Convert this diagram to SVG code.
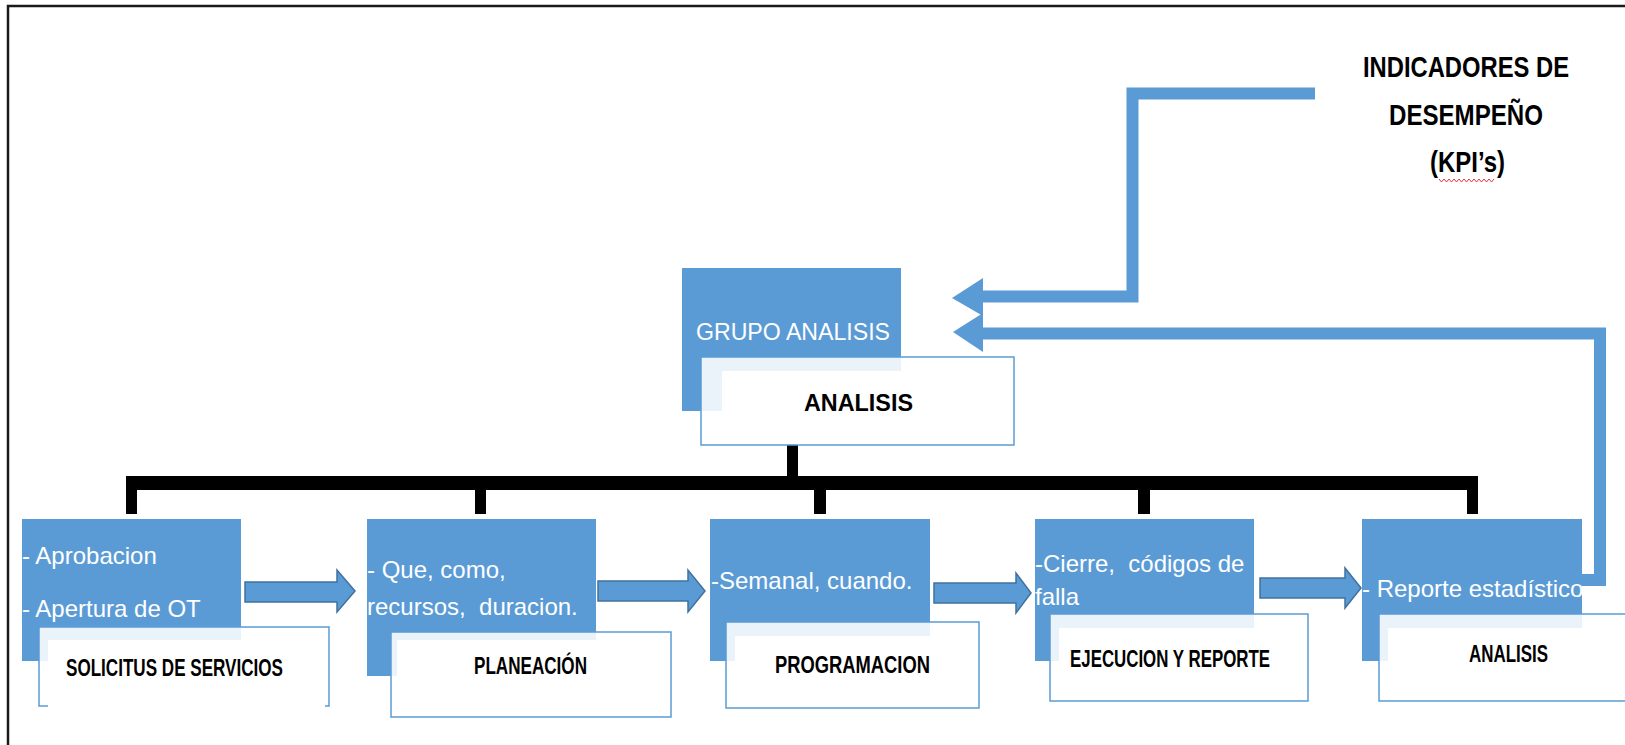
<svg xmlns="http://www.w3.org/2000/svg" width="1625" height="745" viewBox="0 0 1625 745">
  <style>
    .blue { fill: #5b9bd5; }
    .card { fill: #ffffff; fill-opacity: 0.88; stroke: #5b9bd5; stroke-width: 1.5; }
    .inner { fill: #ffffff; }
    .wt { font-family: "Liberation Sans", Arial, sans-serif; fill: #ffffff; font-size: 24px; white-space: pre; }
    .lbl { font-family: "Liberation Sans", Arial, sans-serif; font-weight: bold; fill: #000000; font-size: 23px; }
    .kpi { font-family: "Liberation Sans", Arial, sans-serif; font-weight: bold; fill: #000000; font-size: 30px; }
    .bus { fill: #000000; }
    .flow { fill: #5b9bd5; stroke: #41719c; stroke-width: 1.5; stroke-linejoin: miter; }
    .feed { fill: none; stroke: #5b9bd5; stroke-width: 12; stroke-linejoin: miter; }
    .head { fill: #5b9bd5; }
  </style>

  <rect width="1625" height="745" fill="#ffffff"/>

  <!-- page frame: top and left edges -->
  <path d="M8 745 V6 H1625" fill="none" stroke="#1a1a1a" stroke-width="2.5"/>

  <!-- connectors -->
  <g id="connectors">
    <!-- black tree bus -->
    <rect class="bus" x="787" y="440" width="11" height="45"/>
    <rect class="bus" x="126" y="476" width="1352" height="14"/>
    <rect class="bus" x="126" y="476" width="11" height="38"/>
    <rect class="bus" x="475" y="476" width="11" height="38"/>
    <rect class="bus" x="814" y="476" width="12" height="38"/>
    <rect class="bus" x="1138" y="476" width="12" height="38"/>
    <rect class="bus" x="1467" y="476" width="11" height="38"/>

    <!-- block arrows between stages -->
    <polygon class="flow" points="245,582 337,582 337,570 355,591 337,612 337,602 245,602"/>
    <polygon class="flow" points="598,581 688,581 688,570 705,591 688,612 688,601 598,601"/>
    <polygon class="flow" points="934,583 1016,583 1016,573 1031,593 1016,613 1016,603 934,603"/>
    <polygon class="flow" points="1260,578 1345,578 1345,568 1361,588 1345,608 1345,598 1260,598"/>

    <!-- feedback from KPI indicators -->
    <path class="feed" d="M1315 93.5 H1132.5 V296.5 H980"/>
    <polygon class="head" points="952,298 983,278 983,316"/>
    <!-- feedback from statistical report -->
    <path class="feed" d="M1582 580 H1600 V333.5 H980"/>
    <polygon class="head" points="953,332 983,313 983,352"/>
  </g>

  <!-- KPI heading -->
  <g id="kpi">
    <text class="kpi" x="1363" y="77" textLength="206" lengthAdjust="spacingAndGlyphs">INDICADORES DE</text>
    <text class="kpi" x="1389" y="125" textLength="154" lengthAdjust="spacingAndGlyphs">DESEMPEÑO</text>
    <text class="kpi" x="1430" y="172" textLength="75" lengthAdjust="spacingAndGlyphs">(KPI’s)</text>
    <path d="M1439 179 l2.5 3 l2.5 -3 l2.5 3 l2.5 -3 l2.5 3 l2.5 -3 l2.5 3 l2.5 -3 l2.5 3 l2.5 -3 l2.5 3 l2.5 -3 l2.5 3 l2.5 -3 l2.5 3 l2.5 -3 l2.5 3 l2.5 -3 l2.5 3 l2.5 -3 l2.5 3 l2.5 -3" fill="none" stroke="#e8333a" stroke-width="1"/>
  </g>

  <!-- top node -->
  <g id="grupo-analisis">
    <rect class="blue" x="682" y="268" width="219" height="143"/>
    <text class="wt" x="696" y="340" font-size="29" textLength="194" lengthAdjust="spacingAndGlyphs">GRUPO ANALISIS</text>
    <rect class="card" x="701" y="357" width="313" height="88"/>
    <rect class="inner" x="722" y="371" width="291" height="73"/>
    <text class="lbl" x="804" y="411" font-size="30" textLength="109" lengthAdjust="spacingAndGlyphs">ANALISIS</text>
  </g>

  <!-- stage 1 -->
  <g id="solicitud">
    <rect class="blue" x="22" y="519" width="219" height="142"/>
    <text class="wt" x="22" y="564">- Aprobacion</text>
    <text class="wt" x="22" y="617">- Apertura de OT</text>
    <rect class="card" x="39" y="627" width="290" height="79"/>
    <rect class="inner" x="48" y="640" width="277" height="68"/>
    <text class="lbl" x="66" y="676" textLength="217" lengthAdjust="spacingAndGlyphs">SOLICITUS DE SERVICIOS</text>
  </g>

  <!-- stage 2 -->
  <g id="planeacion">
    <rect class="blue" x="367" y="519" width="229" height="157"/>
    <text class="wt" x="367" y="578" font-size="23.5">- Que, como,</text>
    <text class="wt" x="367" y="615" font-size="23.5">recursos,  duracion.</text>
    <rect class="card" x="391" y="632" width="280" height="85"/>
    <rect class="inner" x="397" y="640" width="273" height="76"/>
    <text class="lbl" x="474" y="674" textLength="113" lengthAdjust="spacingAndGlyphs">PLANEACIÓN</text>
  </g>

  <!-- stage 3 -->
  <g id="programacion">
    <rect class="blue" x="710" y="519" width="220" height="142"/>
    <text class="wt" x="711" y="589">-Semanal, cuando.</text>
    <rect class="card" x="726" y="622" width="253" height="86"/>
    <rect class="inner" x="735" y="636" width="243" height="71"/>
    <text class="lbl" x="775" y="673" textLength="155" lengthAdjust="spacingAndGlyphs">PROGRAMACION</text>
  </g>

  <!-- stage 4 -->
  <g id="ejecucion">
    <rect class="blue" x="1035" y="519" width="219" height="142"/>
    <text class="wt" x="1035" y="572">-Cierre,  códigos de</text>
    <text class="wt" x="1035" y="605">falla</text>
    <rect class="card" x="1050" y="614" width="258" height="87"/>
    <rect class="inner" x="1059" y="628" width="248" height="72"/>
    <text class="lbl" x="1070" y="667" textLength="200" lengthAdjust="spacingAndGlyphs">EJECUCION Y REPORTE</text>
  </g>

  <!-- stage 5 -->
  <g id="analisis-final">
    <rect class="blue" x="1362" y="519" width="220" height="142"/>
    <text class="wt" x="1362" y="597">- Reporte estadístico</text>
    <rect class="card" x="1379" y="614" width="250" height="87"/>
    <rect class="inner" x="1388" y="628" width="240" height="72"/>
    <text class="lbl" x="1469" y="662" textLength="79" lengthAdjust="spacingAndGlyphs">ANALISIS</text>
  </g>
</svg>
